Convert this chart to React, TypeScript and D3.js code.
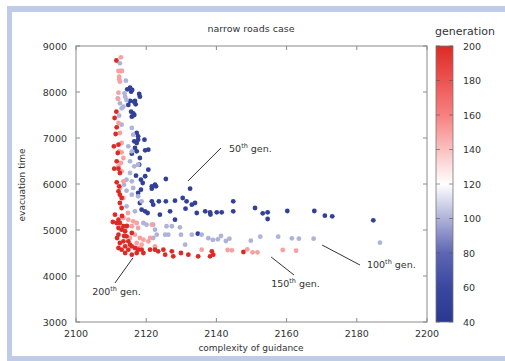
import React from "react";
import * as d3 from "d3";

const title = "narrow roads case";
const xLabel = "complexity of guidance";
const yLabel = "evacuation time";
const cbTitle = "generation";
const xTicks = [2100, 2120, 2140, 2160, 2180, 2200];
const yTicks = [3000, 4000, 5000, 6000, 7000, 8000, 9000];
const cbTicks = [40, 60, 80, 100, 120, 140, 160, 180, 200];

const gen50: [number, number][] = [
  [2114.6, 8059], [2115.4, 8094], [2116.0, 8044], [2115.7, 8007], [2118.0, 7957], [2118.2, 7898],
  [2115.4, 7804], [2116.5, 7789], [2117.0, 7733], [2116.8, 7804], [2114.9, 7718], [2115.7, 7572],
  [2116.3, 7537], [2116.6, 7500], [2115.9, 7463], [2117.3, 7109], [2117.7, 7037], [2116.6, 6928],
  [2117.3, 6891], [2117.7, 6963], [2119.5, 6963], [2116.8, 6783], [2117.3, 6711], [2115.9, 6659],
  [2119.7, 6733], [2120.6, 6746], [2118.2, 6565], [2118.0, 6420], [2120.6, 6311], [2117.1, 6181],
  [2119.7, 6168], [2118.5, 6094], [2119.0, 6022], [2125.6, 6109], [2121.6, 5950], [2122.8, 5950],
  [2122.5, 5985], [2117.7, 5804], [2118.5, 5876], [2121.6, 5898], [2132.5, 5898], [2118.2, 5587],
  [2118.7, 5441], [2120.4, 5370], [2119.7, 5407], [2121.6, 5624], [2123.6, 5624], [2122.0, 5550],
  [2125.6, 5624], [2128.2, 5637], [2130.4, 5696], [2131.5, 5624], [2133.0, 5550], [2133.9, 5587],
  [2134.4, 5370], [2123.9, 5333], [2126.8, 5407], [2128.2, 5224], [2136.8, 5407], [2138.2, 5385],
  [2138.3, 5335], [2140.1, 5385], [2141.5, 5385], [2144.8, 5407], [2134.7, 4920], [2131.2, 5463],
  [2144.8, 5624], [2151.0, 5478], [2153.2, 5363], [2154.6, 5385], [2154.6, 5239], [2160.2, 5413],
  [2167.9, 5413], [2170.9, 5311], [2173.0, 5298], [2184.7, 5211],
];

const gen100: [number, number][] = [
  [2112.5, 8624], [2114.2, 8246], [2113.8, 7972], [2111.9, 7863], [2114.0, 7898], [2114.4, 7826],
  [2112.5, 7754], [2113.5, 7681], [2113.0, 7646], [2112.3, 7485], [2113.0, 7289], [2115.9, 7218],
  [2116.3, 7072], [2114.9, 6820], [2115.9, 6711], [2115.4, 6494], [2116.6, 6385], [2115.4, 6239],
  [2114.4, 6094], [2115.9, 6059], [2113.7, 5985], [2116.3, 5913], [2117.7, 6420], [2114.4, 5854],
  [2115.9, 5767], [2117.7, 5733], [2118.7, 5624], [2114.4, 5515], [2116.8, 5407], [2119.2, 5152],
  [2120.1, 5115], [2122.0, 5115], [2122.5, 5007], [2125.8, 5081], [2127.3, 5081], [2129.6, 5059],
  [2123.0, 4898], [2122.0, 4826], [2125.4, 4898], [2126.3, 4898], [2129.9, 4898], [2133.0, 4898],
  [2135.8, 4898], [2137.7, 4822], [2139.0, 4785], [2140.4, 4798], [2141.3, 4870], [2142.7, 4761],
  [2143.7, 4811], [2131.1, 4680], [2149.8, 4767], [2152.5, 4854], [2157.6, 4854], [2161.5, 4820],
  [2163.5, 4811], [2167.7, 4811], [2186.6, 4724],
];

const gen150: [number, number][] = [
  [2112.8, 8754], [2112.1, 8456], [2112.8, 8456], [2113.1, 8456], [2112.3, 8333], [2112.3, 8276],
  [2112.5, 8224], [2112.1, 7985], [2112.0, 7850], [2112.1, 7326], [2112.5, 7109], [2113.0, 6891],
  [2112.3, 6711], [2113.0, 6689], [2113.5, 6565], [2112.8, 6457], [2112.1, 6385], [2113.0, 6276],
  [2113.5, 6059], [2112.5, 5913], [2113.5, 5696], [2113.5, 5261], [2114.9, 5224], [2116.3, 5189],
  [2117.3, 5152], [2115.9, 5081], [2114.0, 5044], [2117.7, 5044], [2116.8, 4898], [2118.2, 4826],
  [2119.2, 4789], [2120.6, 4754], [2121.1, 4826], [2118.7, 4680], [2117.3, 4717], [2117.7, 4609],
  [2121.6, 5115], [2122.5, 4646], [2114.8, 5370], [2115.4, 4826], [2135.8, 4572], [2143.2, 4565],
  [2144.4, 4559], [2148.8, 4580], [2150.3, 4515], [2151.7, 4515], [2158.9, 4565], [2162.7, 4550],
];

const gen200: [number, number][] = [
  [2111.5, 8685], [2111.5, 7572], [2111.0, 7435], [2111.6, 7233], [2111.3, 7087], [2110.8, 6820],
  [2112.1, 6854], [2111.9, 6674], [2111.6, 6494], [2110.9, 6333], [2112.1, 6333], [2112.5, 6239],
  [2111.6, 6037], [2112.3, 5950], [2112.1, 5841], [2112.5, 5767], [2113.0, 5696], [2112.5, 5587],
  [2113.0, 5478], [2111.1, 5333], [2112.1, 5224], [2112.5, 5152], [2113.5, 5081], [2111.6, 5152],
  [2113.0, 5007], [2114.0, 4972], [2112.1, 4898], [2114.4, 4863], [2114.9, 4754], [2113.5, 4754],
  [2112.5, 4717], [2112.1, 4609], [2113.0, 4572], [2114.0, 4646], [2115.4, 4680], [2115.9, 4646],
  [2114.9, 4572], [2116.8, 4609], [2117.7, 4572], [2117.3, 4500], [2118.7, 4572], [2119.2, 4500],
  [2121.1, 4572], [2122.5, 4572], [2123.4, 4537], [2124.9, 4572], [2125.4, 4463], [2127.3, 4537],
  [2127.7, 4428], [2129.9, 4500], [2132.0, 4463], [2134.8, 4428], [2138.7, 4537], [2139.1, 4463],
  [2138.2, 4428], [2114.0, 4500], [2115.9, 4463], [2112.1, 5044], [2115.9, 4935], [2147.7, 4522],
  [2110.5, 5174], [2111.7, 4826], [2113.7, 4870], [2114.5, 5087], [2113.1, 5304],
];

const series = [
  { gen: 50, points: gen50 },
  { gen: 100, points: gen100 },
  { gen: 150, points: gen150 },
  { gen: 200, points: gen200 },
];

const annotations = [
  { label: "50", from: [2131.9, 6065], to: [2141.3, 6783], text: [2143.6, 6696] },
  { label: "100", from: [2170.1, 4674], to: [2180.9, 4239], text: [2182.9, 4174] },
  { label: "150", from: [2155.6, 4413], to: [2162.1, 4022], text: [2155.6, 3761] },
  { label: "200", from: [2116.2, 4391], to: [2111.1, 3848], text: [2104.6, 3587] },
];

const W = 505;
const H = 361;
const plot = { left: 76, right: 427, top: 46, bottom: 322 };
const cb = { left: 436, right: 453 };
const font = "'DejaVu Sans', Verdana, sans-serif";
const textColor = "#333";

export default function App() {
  const x = d3.scaleLinear().domain([2100, 2200]).range([plot.left, plot.right]);
  const y = d3.scaleLinear().domain([3000, 9000]).range([plot.bottom, plot.top]);
  const color = d3
    .scaleLinear<string>()
    .domain([40, 60, 80, 120, 160, 180, 200])
    .range(["#2b3891", "#3a47a0", "#5d66b3", "#ffffff", "#f78080", "#ec5451", "#dd2a24"])
    .interpolate(d3.interpolateRgb);
  const cy = d3.scaleLinear().domain([40, 200]).range([plot.bottom, plot.top]);
  const gradStops = d3.range(40, 201, 10);

  return (
    <svg width={W} height={H} style={{ position: "absolute", left: 0, top: 0 }} fontFamily={font}>
      <defs>
        <linearGradient id="cbgrad" x1="0" y1="1" x2="0" y2="0">
          {gradStops.map((g) => (
            <stop key={g} offset={(g - 40) / 160} stopColor={color(g)} />
          ))}
        </linearGradient>
      </defs>
      <rect x={0} y={0} width={W} height={H} fill="#fff" />
      <rect x={7} y={6} width={W} height={H} fill="#bfcbe7" />
      <rect x={12} y={12} width={W} height={344} fill="#fff" />

      <text x={251} y={32} textAnchor="middle" fontSize={9.5} fill={textColor}>{title}</text>

      {/* points */}
      {series.map((s) =>
        s.points.map((p, i) => (
          <circle key={s.gen + "-" + i} cx={x(p[0])} cy={y(p[1])} r={2.4} fill={color(s.gen)} />
        ))
      )}

      {/* frame */}
      <rect x={plot.left} y={plot.top} width={plot.right - plot.left} height={plot.bottom - plot.top}
        fill="none" stroke="#8a8a8a" strokeWidth={1} />
      {xTicks.map((t) => (
        <g key={"xt" + t}>
          <line x1={x(t)} x2={x(t)} y1={plot.bottom} y2={plot.bottom - 4} stroke="#8a8a8a" />
          <line x1={x(t)} x2={x(t)} y1={plot.top} y2={plot.top + 4} stroke="#8a8a8a" />
          <text x={x(t)} y={337} textAnchor="middle" fontSize={9.5} fill={textColor}>{t}</text>
        </g>
      ))}
      {yTicks.map((t) => (
        <g key={"yt" + t}>
          <line x1={plot.left} x2={plot.left + 4} y1={y(t)} y2={y(t)} stroke="#8a8a8a" />
          <line x1={plot.right} x2={plot.right - 4} y1={y(t)} y2={y(t)} stroke="#8a8a8a" />
          <text x={67} y={y(t) + 3.5} textAnchor="end" fontSize={9.5} fill={textColor}>{t}</text>
        </g>
      ))}
      <text x={251} y={351} textAnchor="middle" fontSize={9} fill={textColor}>{xLabel}</text>
      <text transform={`translate(25,${185}) rotate(-90)`} textAnchor="middle" fontSize={9} fill={textColor}>
        {yLabel}
      </text>

      {/* annotations */}
      {annotations.map((a) => (
        <g key={"an" + a.label}>
          <line x1={x(a.from[0])} y1={y(a.from[1])} x2={x(a.to[0])} y2={y(a.to[1])} stroke="#333" strokeWidth={1} />
          <text x={x(a.text[0])} y={y(a.text[1])} fontSize={9.5} fill={textColor}>
            {a.label}
            <tspan fontSize={6.5} dy={-3.5}>th</tspan>
            <tspan dy={3.5}> gen.</tspan>
          </text>
        </g>
      ))}

      {/* colorbar */}
      <rect x={cb.left} y={plot.top} width={cb.right - cb.left} height={plot.bottom - plot.top} fill="url(#cbgrad)" />
      <rect x={cb.left} y={plot.top} width={cb.right - cb.left} height={plot.bottom - plot.top} fill="none" stroke="#777" strokeWidth={0.8} />
      {cbTicks.map((t) => (
        <g key={"cb" + t}>
          <line x1={cb.left} x2={cb.left + 4} y1={cy(t)} y2={cy(t)} stroke="#555" strokeOpacity={0.6} />
          <line x1={cb.right} x2={cb.right - 4} y1={cy(t)} y2={cy(t)} stroke="#555" strokeOpacity={0.6} />
          <text x={463} y={cy(t) + 3.5} fontSize={9.5} fill={textColor}>{t}</text>
        </g>
      ))}
      <text x={465} y={35} textAnchor="middle" fontSize={11} fill={textColor}>{cbTitle}</text>
    </svg>
  );
}
